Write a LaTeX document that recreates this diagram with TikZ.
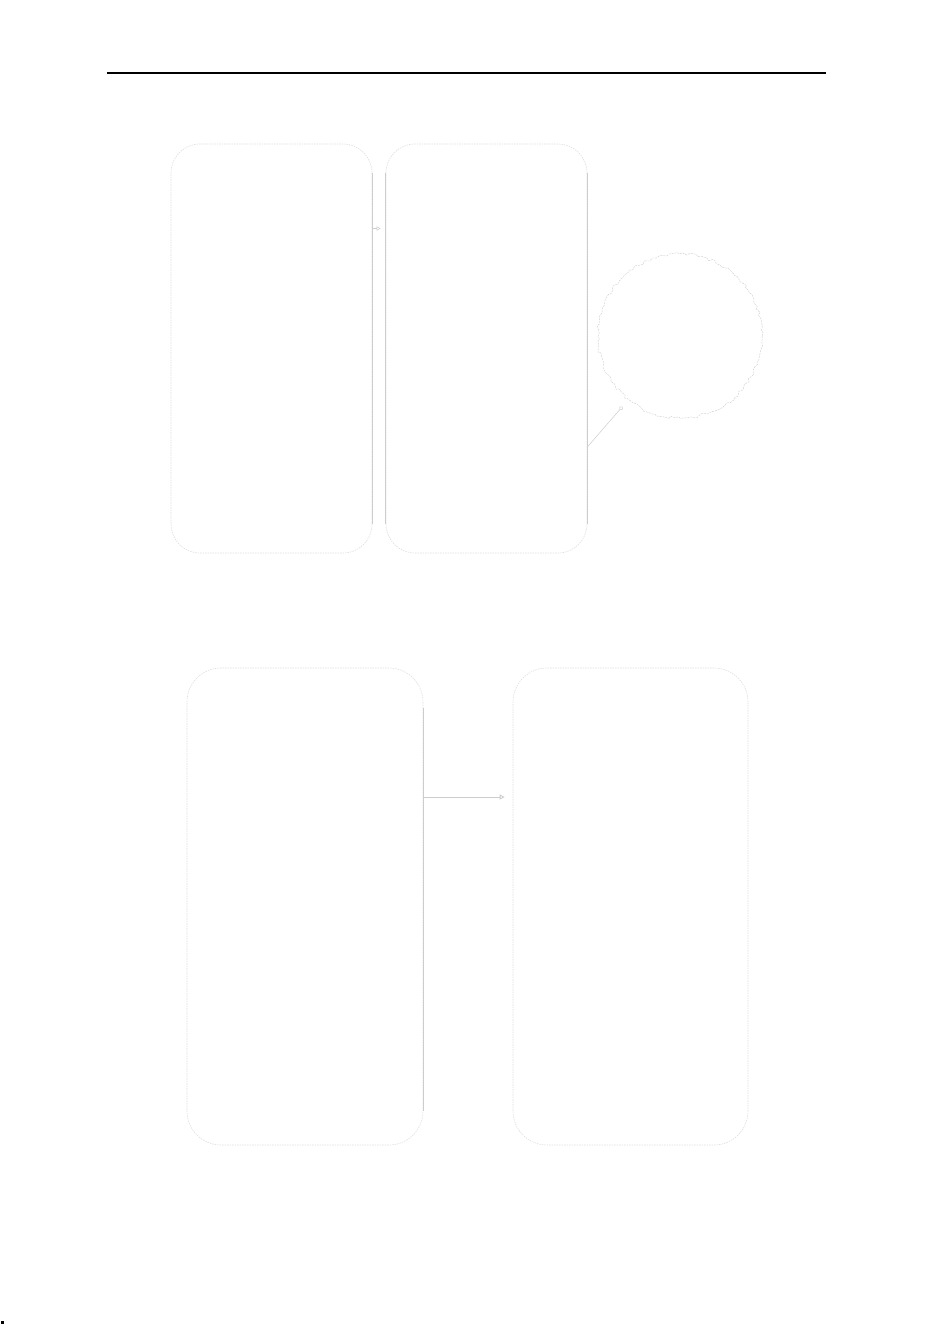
\documentclass[tikz,border=0pt]{standalone}
\usepackage{tikz}
\usetikzlibrary{arrows.meta,decorations.pathmorphing}
\definecolor{faint}{RGB}{205,205,205}
\definecolor{pale}{RGB}{222,222,222}

\begin{document}
\begin{tikzpicture}[x=1pt,y=-1pt,
  panel/.style={draw=pale, dash pattern=on 1.5pt off 1pt, line width=0.6pt, rounded corners=29pt, inner sep=0pt},
  tallpanel/.style={panel, rounded corners=34pt},
  edge/.style={draw=faint, line width=0.9pt}]
\useasboundingbox (0,0) rectangle (933,1324);
\draw [line width=1.2pt] (107,73) -- (826,73);
\fill (1,1321) rectangle (4,1324);
% upper panels
\node (boxA) [panel, minimum width=201pt, minimum height=409pt] at (271.5,348.5) {};
\node (boxB) [panel, minimum width=201pt, minimum height=409pt] at (486.5,348.5) {};
\draw [edge] ([yshift=-29pt]boxA.north east) -- ([yshift=29pt]boxA.south east);
\draw [edge] ([yshift=-29pt]boxB.north west) -- ([yshift=29pt]boxB.south west);
\draw [edge] ([yshift=-29pt]boxB.north east) -- ([yshift=29pt]boxB.south east);
\draw [edge, line width=0.5pt, -{Triangle[open,length=4pt,width=4pt]}, shorten >=5pt]
  ([yshift=120pt]boxA.east) -- ([yshift=120pt]boxB.west);
\node (ring) [circle, draw=faint, dash pattern=on 2pt off 1pt, minimum size=164pt, inner sep=0pt,
  decorate, decoration={random steps, segment length=3pt, amplitude=1.5pt}] at (680,336) {};
\draw [edge, line width=0.5pt, -{Circle[open,length=4pt]}, shorten >=9pt]
  ([yshift=-98.5pt]boxB.east) -- (ring.231);
% lower panels
\node (boxC) [tallpanel, minimum width=236pt, minimum height=477pt] at (305,906.5) {};
\node (boxD) [tallpanel, minimum width=235pt, minimum height=477pt] at (630.5,906.5) {};
\draw [edge] ([yshift=-40pt]boxC.north east) -- ([yshift=34pt]boxC.south east);
\draw [edge, -{Triangle[open,length=5pt,width=5pt]}, shorten >=8pt]
  ([yshift=109.5pt]boxC.east) -- ([yshift=109.5pt]boxD.west);
\end{tikzpicture}
\end{document}
